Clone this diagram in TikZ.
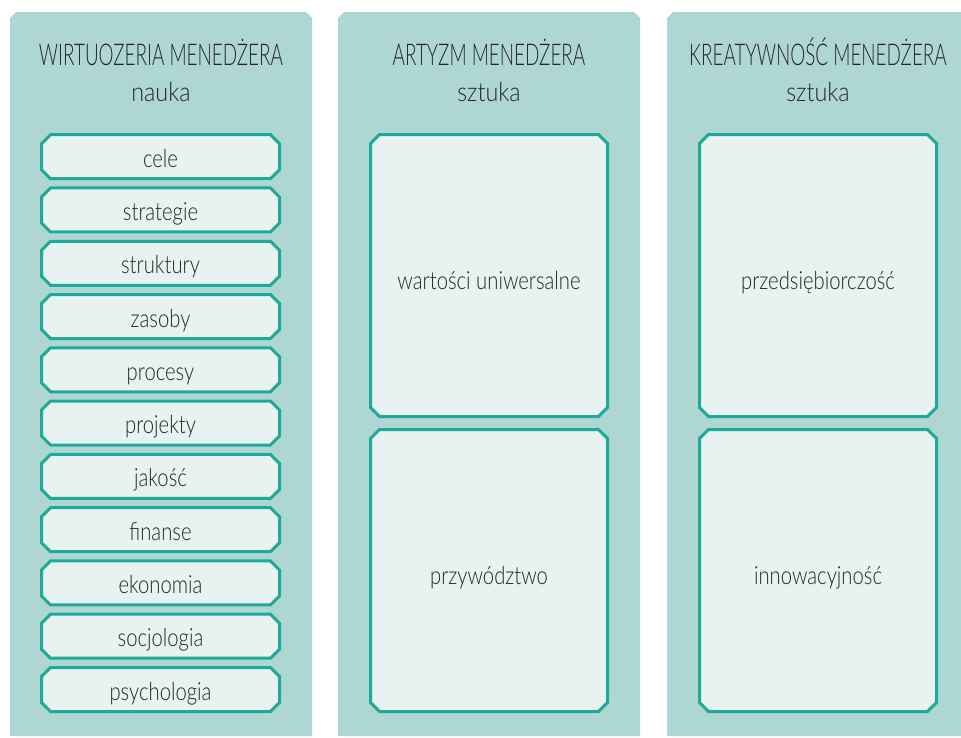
\documentclass[tikz,border=0pt]{standalone}
\usepackage{fontspec}
% light condensed look: Lato Light when present, squeezed horizontally
\IfFontExistsTF{Lato Light}{%
  \setmainfont{Lato Light}[FakeStretch=0.81]
  \newfontfamily\subfont{Lato Light}[FakeStretch=0.88]
  \newfontfamily\headfont{Lato Light}[FakeStretch=0.63]
}{%
  \setmainfont{Lato}[FakeStretch=0.81]
  \newfontfamily\subfont{Lato}[FakeStretch=0.88]
  \newfontfamily\headfont{Lato}[FakeStretch=0.62]
}
\usetikzlibrary{shapes.misc}

\definecolor{panelbg}{RGB}{174,215,211}
\definecolor{boxfill}{RGB}{232,242,241}
\definecolor{boxline}{RGB}{32,169,154}
\definecolor{ink}{RGB}{38,38,38}

\tikzset{
  panel/.style={fill=panelbg},
  itembox/.style={chamfered rectangle, chamfered rectangle sep=4.5pt,
    draw=boxline, fill=boxfill, line width=3pt, inner sep=0pt,
    minimum width=238pt, minimum height=44pt,
    text height=21pt, text depth=0pt,
    font=\fontsize{25}{25}\selectfont, text=ink},
  bigbox/.style={itembox, minimum width=237pt, minimum height=282pt, text height=28pt},
  headline/.style={font=\headfont\fontsize{30}{30}\selectfont, text=ink, anchor=base, inner sep=0pt},
  subline/.style={font=\subfont\fontsize{26.5}{26.5}\selectfont, text=ink, anchor=base, inner sep=0pt},
}

\begin{document}
\begin{tikzpicture}[x=1pt,y=-1pt]
  \useasboundingbox (0,0) rectangle (961,737);
  \begin{scope}
    \clip (0,0) rectangle (961,737);
    % three background panels with cut top corners
    \foreach \x in {10,338,667}{
      \fill[panel] (\x,18) -- (\x+6,12) -- (\x+296,12) -- (\x+302,18)
        -- (\x+302,736) -- (\x,736) -- cycle;
    }
  \end{scope}

  % column headings
  \node[headline] (h1) at (161,65) {WIRTUOZERIA MENEDŻERA};
  \node[subline]  (s1) at (161,101.7) {nauka};
  \node[headline] (h2) at (489,65) {ARTYZM MENEDŻERA};
  \node[subline]  (s2) at (489,101.7) {sztuka};
  \node[headline] (h3) at (818,65) {KREATYWNOŚĆ MENEDŻERA};
  \node[subline]  (s3) at (818,101.7) {sztuka};

  % first column: list of items
  \foreach \t [count=\i from 0] in {cele,strategie,struktury,zasoby,procesy,projekty,jakość,finanse,ekonomia,socjologia,psychologia}{
    \node[itembox] (item\i) at (160.5,{156.7+53.28*\i}) {\t};
  }

  % second and third columns
  \node[bigbox] (a1) at (489,275.5) {wartości uniwersalne};
  \node[bigbox] (a2) at (489,570.5) {przywództwo};
  \node[bigbox] (k1) at (818,275.5) {przedsiębiorczość};
  \node[bigbox] (k2) at (818,570.5) {innowacyjność};
\end{tikzpicture}
\end{document}
